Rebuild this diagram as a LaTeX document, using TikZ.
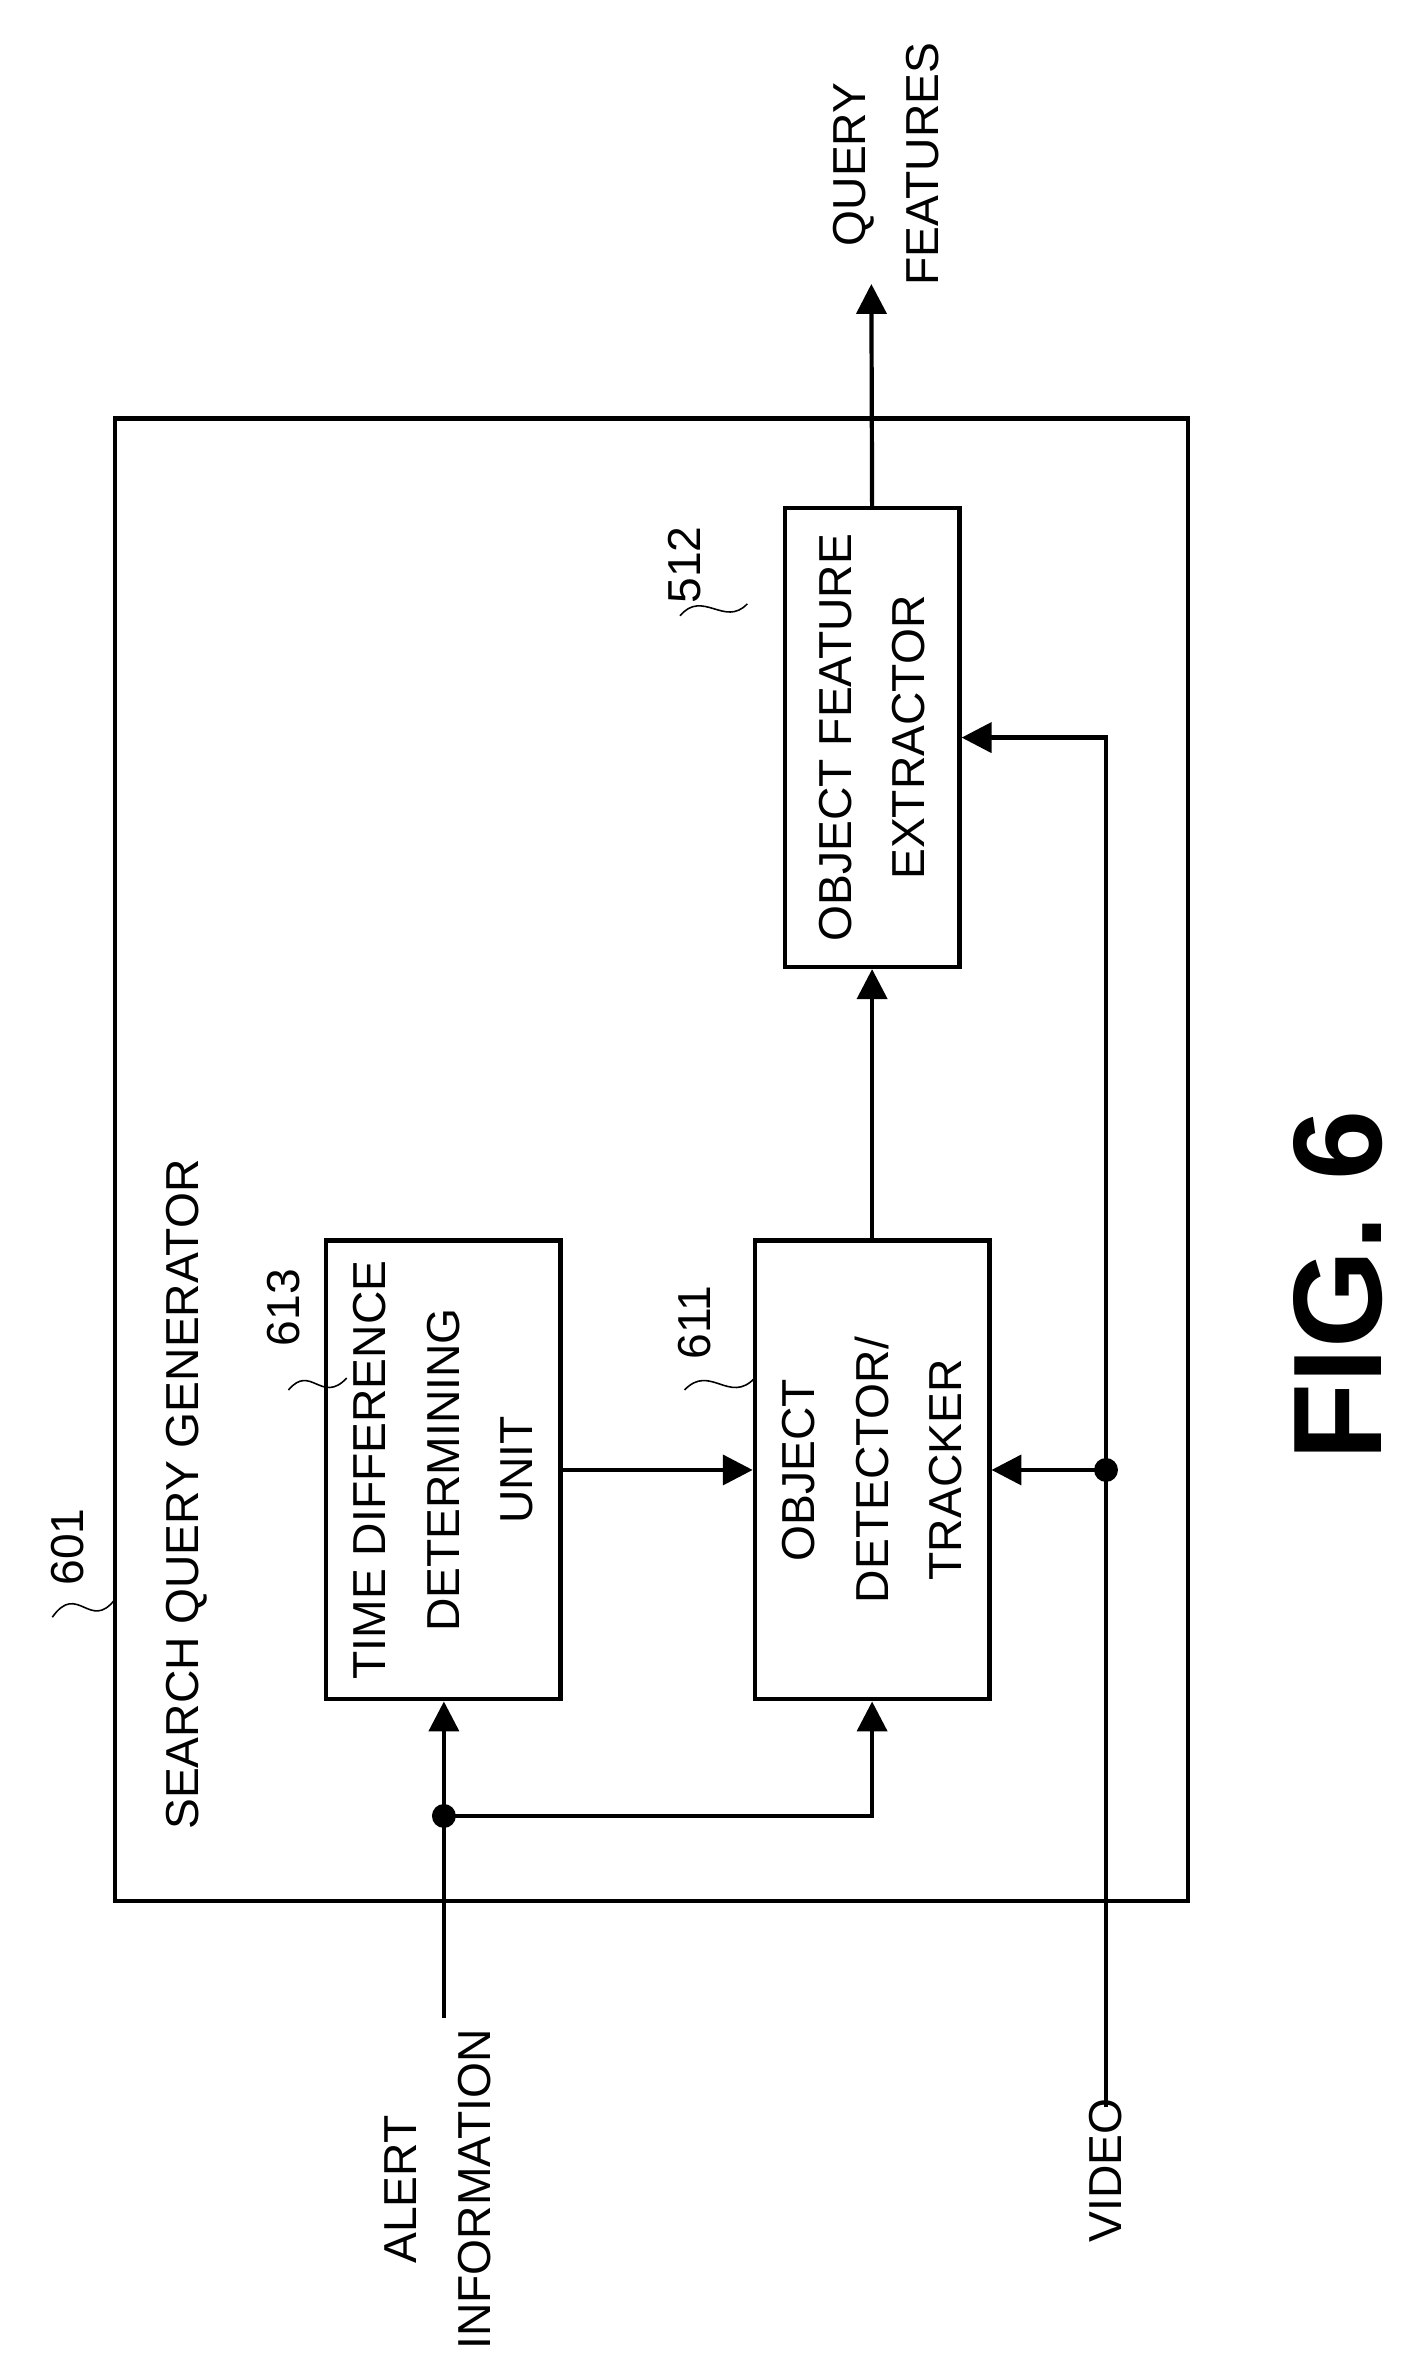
\documentclass[tikz,border=0pt]{standalone}
\usepackage{fontspec}
\setmainfont{Liberation Sans}
\usetikzlibrary{arrows.meta,positioning}

\begin{document}
\begin{tikzpicture}[x=0.05cm,y=-0.05cm,
        box/.style={rectangle, draw=black, line width=4pt, rotate=90, align=center, inner sep=0pt},
        arrow/.style={-{Triangle[length=1cm,width=1cm]}, line width=4pt},
        line/.style={line width=4pt},
        label/.style={rotate=90, align=center, font=\fontsize{44}{70}\selectfont},
        dot/.style={circle, fill=black, inner sep=0pt, minimum size=0.8cm}
    ]
    \useasboundingbox (0,0) rectangle (940,1577);

    % outer frame
    \draw[line] (77,280) rectangle (795,1272);
    \node[label] (sqg) at (125,1000) {SEARCH QUERY GENERATOR};

    % blocks
    \node[box, minimum width=15.35cm, minimum height=7.85cm] (tdu) at (296.5,983.5) {};
    \node[label] at (tdu) {TIME DIFFERENCE\\DETERMINING\\UNIT};
    \node[box, minimum width=15.35cm, minimum height=7.85cm] (odt) at (583.5,983.5) {};
    \node[label] at (odt) {OBJECT\\DETECTOR/\\TRACKER};
    \node[box, minimum width=15.35cm, minimum height=5.85cm] (ofe) at (583.5,493.5) {};
    \node[label] at (ofe) {OBJECT FEATURE\\EXTRACTOR};

    % reference numerals
    \node[label] (n601) at (45,1035) {601};
    \draw[line, line width=1.5pt] (35,1082) .. controls (52,1058) and (60,1092) .. (77,1070);
    \node[label] (n613) at (190,875) {613};
    \draw[line, line width=1.5pt] (193,930) .. controls (208,912) and (215,940) .. (232,922);
    \node[label] (n611) at (465,885) {611};
    \draw[line, line width=1.5pt] (458,930) .. controls (475,912) and (488,940) .. (505,922);
    \node[label] (n512) at (458,378) {512};
    \draw[line, line width=1.5pt] (455,412) .. controls (470,394) and (485,420) .. (500,404);

    % inputs and outputs
    \coordinate (alertin) at (297,1350);
    \coordinate (ajoin) at (297,1215);
    \coordinate (vidin) at (740,1410);
    \coordinate (vjoin) at (740,983.5);
    \coordinate (qout) at (583,190);
    \node[label] (alert) at (293,1465) {ALERT\\INFORMATION};
    \node[label] (video) at (740,1452) {VIDEO};
    \node[label] (query) at (593,110) {QUERY\\FEATURES};

    % connectors
    \draw[arrow] (alertin) -- (alertin |- tdu.west);
    \draw[arrow] (ajoin) -| (odt.west);
    \node[dot] at (ajoin) {};
    \draw[arrow] (tdu.south) -- (odt.north);
    \draw[arrow] (odt.east) -- (ofe.west);
    \draw[arrow] (ofe.east) -- (qout);
    \draw[arrow] (vidin) |- (ofe.south);
    \draw[arrow] (vjoin) -- (odt.south);
    \node[dot] at (vjoin) {};

    \node[rotate=90, font=\bfseries\fontsize{120}{120}\selectfont] (fig) at (895,860) {FIG.\ 6};
\end{tikzpicture}
\end{document}
